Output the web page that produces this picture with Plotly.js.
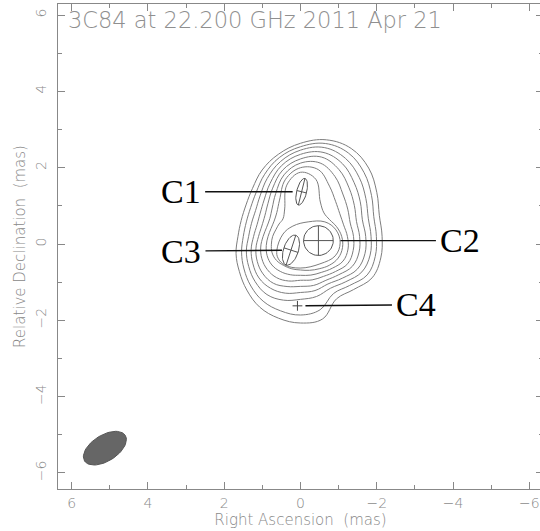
<!DOCTYPE html>
<html><head><meta charset="utf-8">
<script src="https://cdn.plot.ly/plotly-3.0.1.min.js"></script>
<style>html,body{margin:0;padding:0;overflow:hidden;background:#fff}</style>
</head><body><div id="plot"></div>
<script>
// ---- text ----
const chartTitle = '3C84 at 22.200 GHz 2011 Apr 21';
const xTitle = 'Right Ascension\u00a0\u00a0(mas)';
const yTitle = 'Relative Declination\u00a0\u00a0(mas)';
const tickVals = [-6, -4, -2, 0, 2, 4, 6];

// ---- contour levels (radius in mas vs position angle, about contourCentre) ----
const contourCentre = [0.0, 0.2];
const contourPA = [0,15,30,45,60,75,90,105,120,135,150,165,180,195,210,225,240,255,270,285,300,315,330,345];
const contourL1 = [2.44,2.23,2.01,1.78,1.65,1.61,1.64,1.75,1.85,1.99,2.14,2.22,2.27,2.24,1.89,1.97,2.17,2.18,2.14,2.14,2.31,2.53,2.66,2.62];
const contourL2 = [2.35,2.14,1.88,1.64,1.51,1.47,1.50,1.60,1.71,1.84,1.96,2.02,2.06,1.99,1.73,1.82,2.02,2.03,1.99,1.99,2.15,2.36,2.52,2.52];
const contourL3 = [2.26,2.03,1.75,1.50,1.36,1.33,1.36,1.47,1.57,1.68,1.76,1.73,1.65,1.63,1.57,1.68,1.86,1.89,1.85,1.84,1.98,2.18,2.36,2.41];
const contourL4 = [2.15,1.92,1.60,1.35,1.22,1.18,1.23,1.34,1.44,1.54,1.57,1.54,1.47,1.47,1.44,1.55,1.72,1.75,1.71,1.68,1.81,1.99,2.20,2.28];
const contourL5 = [2.03,1.80,1.46,1.21,1.08,1.05,1.10,1.21,1.31,1.39,1.42,1.36,1.31,1.33,1.33,1.42,1.57,1.59,1.55,1.52,1.63,1.80,2.02,2.15];
const contourL6 = [1.92,1.67,1.30,1.05,0.93,0.92,0.98,1.08,1.17,1.23,1.25,1.21,1.15,1.18,1.21,1.30,1.43,1.43,1.39,1.35,1.43,1.57,1.81,1.99];
const contourL7 = [1.80,1.54,1.10,0.88,0.80,0.80,0.85,0.93,1.01,1.06,1.06,1.04,1.02,1.05,1.09,1.18,1.29,1.29,1.23,1.17,1.19,1.30,1.52,1.81];
const contourL8 = [1.68,1.39,0.83,0.65,0.65,0.67,0.73,0.79,0.86,0.89,0.88,0.88,0.88,0.92,0.98,1.07,1.14,1.14,1.08,0.98,0.88,0.87,1.04,1.55];
// innermost contour (around C2 + C3), x/y in mas
const contourL9X = [0.62,0.46,0.20,-0.20,-0.64,-0.93,-1.04,-0.91,-0.51,0.01,0.41,0.59];
const contourL9Y = [-0.16,0.26,0.47,0.58,0.58,0.37,0.03,-0.31,-0.52,-0.63,-0.55,-0.37];

// ---- model-fit components ----
const compNames = ['C1', 'C2', 'C3', 'C4'];
const compX     = [-0.03, -0.47, 0.25, 0.08];
const compY     = [1.37, 0.09, -0.16, -1.62];
const compMajor = [0.72, 0.78, 0.82, 0];   // FWHM, mas
const compMinor = [0.26, 0.78, 0.39, 0];
const compPA    = [-14, 0, -18, 0];        // deg, E of N

// ---- restoring beam ----
const beamX = 5.13, beamY = -5.35, beamMajor = 1.26, beamMinor = 0.68, beamPA = -58;

// ================= drawing =================
const d2r = Math.PI / 180;
function polarContour(radii) {
  const xs = [], ys = [];
  radii.forEach((r, i) => {
    xs.push(contourCentre[0] + r * Math.sin(contourPA[i] * d2r));
    ys.push(contourCentre[1] + r * Math.cos(contourPA[i] * d2r));
  });
  xs.push(xs[0]); ys.push(ys[0]);
  return {xs, ys};
}
function ellipse(cx, cy, maj, min, pa) {
  const a = maj / 2, b = min / 2, p = pa * d2r;
  const ux = Math.sin(p), uy = Math.cos(p), vx = Math.cos(p), vy = -Math.sin(p);
  const xs = [], ys = [];
  for (let t = 0; t <= 360; t += 6) {
    const c = Math.cos(t * d2r), s = Math.sin(t * d2r);
    xs.push(cx + a * c * ux + b * s * vx);
    ys.push(cy + a * c * uy + b * s * vy);
  }
  return {xs, ys};
}

const traces = [];
const contourColor = '#7d7d7d';
[contourL1, contourL2, contourL3, contourL4, contourL5, contourL6, contourL7, contourL8].forEach(r => {
  const c = polarContour(r);
  traces.push({x: c.xs, y: c.ys, mode: 'lines', type: 'scatter', hoverinfo: 'skip',
    line: {color: contourColor, width: 1, shape: 'spline', smoothing: 1.1}});
});
traces.push({x: contourL9X.concat([contourL9X[0]]), y: contourL9Y.concat([contourL9Y[0]]),
  mode: 'lines', type: 'scatter', hoverinfo: 'skip',
  line: {color: contourColor, width: 1, shape: 'spline', smoothing: 1.1}});

// components: ellipse + cross along axes
const compColor = '#555';
compNames.forEach((n, i) => {
  if (compMajor[i] > 0) {
    const e = ellipse(compX[i], compY[i], compMajor[i], compMinor[i], compPA[i]);
    traces.push({x: e.xs, y: e.ys, mode: 'lines', type: 'scatter', hoverinfo: 'skip',
      line: {color: compColor, width: 1}});
    const p = compPA[i] * d2r, a = compMajor[i] / 2, b = compMinor[i] / 2;
    const ux = Math.sin(p), uy = Math.cos(p), vx = Math.cos(p), vy = -Math.sin(p);
    traces.push({
      x: [compX[i] - a * ux, compX[i] + a * ux, null, compX[i] - b * vx, compX[i] + b * vx],
      y: [compY[i] - a * uy, compY[i] + a * uy, null, compY[i] - b * vy, compY[i] + b * vy],
      mode: 'lines', type: 'scatter', hoverinfo: 'skip', line: {color: compColor, width: 1}});
  } else {
    traces.push({x: [compX[i]], y: [compY[i]], mode: 'markers', type: 'scatter', hoverinfo: 'skip',
      marker: {symbol: 'cross-thin', size: 7, line: {color: '#444', width: 1}}});
  }
});

// beam
const be = ellipse(beamX, beamY, beamMajor, beamMinor, beamPA);
traces.push({x: be.xs, y: be.ys, mode: 'lines', type: 'scatter', fill: 'toself',
  fillcolor: '#666666', line: {color: '#555', width: 1}, hoverinfo: 'skip'});

// label offsets (pixels) and leader standoffs
const labelAx = [-121, 142, -110, 119];
const labelAy = [0, 0, 1, -1];
const labelStandoff = [9, 22, 9, 8];

const annotations = compNames.map((n, i) => ({
  x: compX[i], y: compY[i], xref: 'x', yref: 'y', text: n,
  showarrow: true, arrowhead: 0, arrowwidth: 1.4, arrowcolor: '#111',
  ax: labelAx[i], ay: labelAy[i], standoff: labelStandoff[i], borderpad: 4,
  font: {family: 'Liberation Serif, DejaVu Serif, serif', size: 34, color: '#000'}
}));
annotations.push({
  xref: 'paper', yref: 'paper', x: 0.017, y: 0.968, xanchor: 'left', yanchor: 'middle',
  text: chartTitle, showarrow: false,
  font: {family: 'DejaVu Sans, sans-serif', size: 22.5, color: '#8f8f8f', weight: 200}
});

const tickFont = {family: 'DejaVu Sans, sans-serif', size: 14, color: '#888', weight: 200};
const titleFont = {family: 'DejaVu Sans, sans-serif', size: 15, color: '#888', weight: 200};
const common = {
  tickvals: tickVals, ticks: 'inside', ticklen: 7, tickwidth: 1, tickcolor: '#888',
  showline: true, linecolor: '#888', linewidth: 1, mirror: 'ticks',
  showgrid: false, zeroline: false, tickfont: tickFont,
  minor: {tickmode: 'linear', tick0: 1, dtick: 2, ticks: 'inside', ticklen: 4, tickcolor: '#888', showgrid: false}
};

const layout = {
  width: 543, height: 531, autosize: false,
  margin: {l: 58, r: 0, t: 4, b: 42},
  paper_bgcolor: '#fff', plot_bgcolor: '#fff', showlegend: false,
  xaxis: Object.assign({}, common, {range: [6.36, -6.36], ticklabelstandoff: 1,
    title: {text: xTitle, font: titleFont, standoff: 2}}),
  yaxis: Object.assign({}, common, {range: [-6.42, 6.29], tickangle: -90, ticklabelstandoff: 5,
    title: {text: yTitle, font: titleFont, standoff: 4}}),
  annotations: annotations
};

Plotly.newPlot('plot', traces, layout, {staticPlot: true, displayModeBar: false});
</script></body></html>
